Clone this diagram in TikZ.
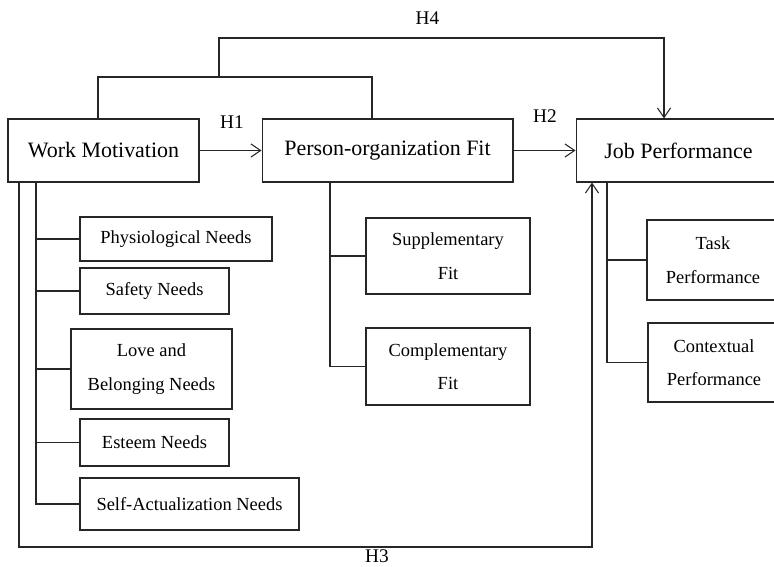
\documentclass[tikz,border=0pt]{standalone}
\usepackage{fontspec}
\setmainfont{Liberation Serif}
\usetikzlibrary{arrows.meta}
\begin{document}
\begin{tikzpicture}[x = 0.02cm, y = -0.02cm, line width = 0.6pt, draw = black!85,
  box/.style = {draw = black!85, rectangle, inner sep = 0pt, minimum height = 1.26cm, font = \fontsize{12.5}{15}\selectfont},
  sub/.style = {draw = black!85, rectangle, inner sep = 0pt, align = center, font = \fontsize{10.5}{19}\selectfont},
  hyp/.style = {font = \fontsize{11}{13}\selectfont},
  arr/.style = {-{Straight Barb[length = 5.5pt, width = 7.5pt]}}]
\useasboundingbox (0,0) rectangle (774,566);
\clip (0,0) rectangle (774,566);
\node[box, minimum width = 3.82cm] (wm) at (103.5,150.5) {Work Motivation};
\node[box, minimum width = 5.02cm] (pof) at (387.5,150.5) {Person-organization Fit};
\node[box, minimum width = 4.1cm] (jp) at (678.5,150.5) {Job Performance};
\node[sub, minimum width = 3.84cm, minimum height = 0.88cm] (phys) at (176,239) {Physiological Needs};
\node[sub, minimum width = 2.98cm, minimum height = 0.92cm] (safe) at (154.5,291) {Safety Needs};
\node[sub, minimum width = 3.22cm, minimum height = 1.6cm] (love) at (151.5,369) {Love and\\Belonging Needs};
\node[sub, minimum width = 2.98cm, minimum height = 0.94cm] (esteem) at (154.5,442.5) {Esteem Needs};
\node[sub, minimum width = 4.38cm, minimum height = 1.04cm] (selfact) at (189.5,504) {Self-Actualization Needs};
\node[sub, minimum width = 3.28cm, minimum height = 1.52cm] (supp) at (448,256) {Supplementary\\Fit};
\node[sub, minimum width = 3.28cm, minimum height = 1.54cm] (comp) at (448,366.5) {Complementary\\Fit};
\node[sub, minimum width = 2.64cm, minimum height = 1.6cm] (task) at (713,260) {Task\\Performance};
\node[sub, minimum width = 2.64cm, minimum height = 1.58cm] (context) at (714,362.5) {Contextual\\Performance};
\node[hyp] (h1) at (232,122) {H1};
\node[hyp] (h2) at (545,116) {H2};
\node[hyp] (h3) at (377,556) {H3};
\node[hyp] (h4) at (427.5,18) {H4};
\draw[arr] (wm) -- (pof);
\draw[arr] (pof) -- (jp);
\coordinate (h4a) at (98,77);
\coordinate (h4b) at (372,77);
\coordinate (h4c) at (219,77);
\coordinate (h4d) at (664,38);
\draw (wm.north -| h4a) -- (h4a) -- (h4b) -- (pof.north -| h4b);
\draw[arr] (h4c) |- (h4d) -- (jp.north -| h4d);
\coordinate (h3a) at (19,547);
\coordinate (h3b) at (592,547);
\draw[arr] (wm.south -| h3a) -- (h3a) -- (h3b) -- (jp.south -| h3b);
\coordinate (needs) at (36,503);
\draw (wm.south -| needs) |- (selfact.west);
\foreach \n in {phys,safe,love,esteem}
  \draw (needs |- \n.west) -- (\n.west);
\coordinate (fits) at (330,363);
\draw (pof.south -| fits) |- (comp.west);
\draw (fits |- supp.west) -- (supp.west);
\coordinate (perfs) at (607,363);
\draw (jp.south -| perfs) |- (context.west);
\draw (perfs |- task.west) -- (task.west);
\end{tikzpicture}
\end{document}
